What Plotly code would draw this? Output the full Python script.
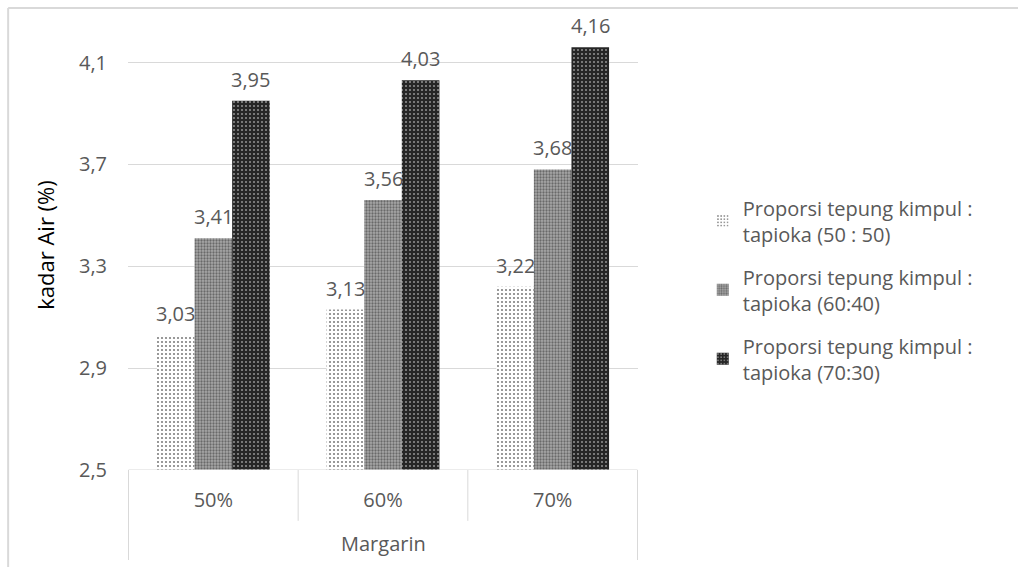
import plotly.graph_objects as go

categories = ["50%", "60%", "70%"]
series_names = [
    "Proporsi tepung kimpul :<br>tapioka (50 : 50)",
    "Proporsi tepung kimpul :<br>tapioka (60:40)",
    "Proporsi tepung kimpul :<br>tapioka (70:30)",
]
s1 = [3.03, 3.13, 3.22]
s2 = [3.41, 3.56, 3.68]
s3 = [3.95, 4.03, 4.16]
y_ticks = [2.5, 2.9, 3.3, 3.7, 4.1]

FONT = "Open Sans"
GRAY = "#595959"
LINE = "#d9d9d9"
BARGAP = 0.335

patterns = [
    dict(shape=".", fgcolor="black", bgcolor="white", size=4, solidity=0.22),
    dict(shape=".", fgcolor="#2a2a2a", bgcolor="#a8a8a8", size=3, solidity=0.45),
    dict(shape=".", fgcolor="white", bgcolor="#262626", size=4, solidity=0.2),
]

all_series = [s1, s2, s3]
fig = go.Figure()
for i, (name, vals) in enumerate(zip(series_names, all_series)):
    fig.add_trace(go.Bar(
        x=categories, y=vals, name=name, legendgroup=f"g{i}",
        marker=dict(color="white", pattern=patterns[i], line=dict(width=0)),
    ))

# data labels above bars, positioned from the data and the group layout
bw = (1 - BARGAP) / len(all_series)
annotations = []
for j, vals in enumerate(all_series):
    for i, v in enumerate(vals):
        annotations.append(dict(
            x=i + (j - (len(all_series) - 1) / 2) * bw, y=v, xref="x", yref="y",
            text=f"{v:.2f}".replace(".", ","), showarrow=False,
            yanchor="bottom", yshift=6,
            font=dict(family=FONT, size=20, color=GRAY)))
annotations.append(dict(text="Margarin", xref="paper", yref="paper", x=0.5, y=-0.163,
                        yanchor="middle", showarrow=False,
                        font=dict(family=FONT, size=20, color=GRAY)))

# x-axis box (Excel style multi-level category axis) and chart frame
shapes = [
    dict(type="line", xref="x", yref="y", x0=-0.5, x1=2.5, y0=2.5, y1=2.5,
         line=dict(color=LINE, width=1)),
    dict(type="line", xref="paper", yref="paper", x0=-0.235, x1=3, y0=1.0267, y1=1.0267,
         line=dict(color=LINE, width=2)),
    dict(type="line", xref="paper", yref="paper", x0=-0.235, x1=-0.235, y0=1.0267, y1=-0.3,
         line=dict(color=LINE, width=2)),
]
for xv, ybot in [(-0.5, -0.2), (0.5, -0.113), (1.5, -0.113), (2.5, -0.2)]:
    shapes.append(dict(type="line", xref="x", yref="paper", x0=xv, x1=xv, y0=0, y1=ybot,
                       line=dict(color=LINE, width=1)))

fig.update_layout(
    width=1018, height=567,
    margin=dict(l=128, r=380, t=20, b=97),
    paper_bgcolor="white", plot_bgcolor="white",
    separators=",.",
    barmode="group", bargap=BARGAP, bargroupgap=0,
    font=dict(family=FONT, color=GRAY),
    xaxis=dict(showgrid=False, showline=False, ticks="", zeroline=False,
               tickfont=dict(family=FONT, size=20, color=GRAY), ticklabelstandoff=16),
    yaxis=dict(range=[2.5, 4.267], tickvals=y_ticks, tickformat=".1f",
               showgrid=True, gridcolor=LINE, gridwidth=1, zeroline=False, showline=False,
               ticks="", ticklabelstandoff=20,
               tickfont=dict(family=FONT, size=20, color=GRAY),
               title=dict(text="kadar Air (%)", font=dict(family=FONT, size=22, color="black"),
                          standoff=18)),
    legend=dict(x=1.127, y=0.626, xanchor="left", yanchor="top",
                font=dict(family=FONT, size=20, color=GRAY),
                tracegroupgap=14, itemwidth=30, bgcolor="rgba(0,0,0,0)"),
    shapes=shapes,
    annotations=annotations,
)

fig.write_html("out.html")
